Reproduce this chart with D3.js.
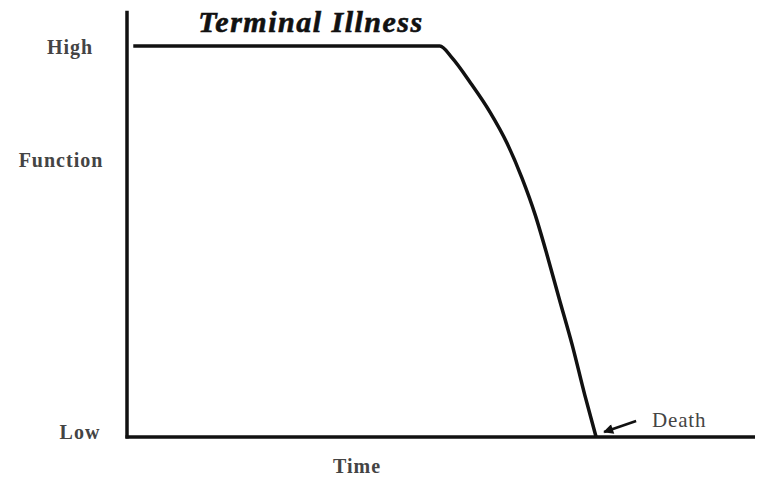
<!DOCTYPE html>
<html>
<head>
<meta charset="utf-8">
<script src="https://cdn.jsdelivr.net/npm/d3@7"></script>
<style>
  body { margin: 0; background: #fff; }
  text { font-family: "Liberation Serif", "DejaVu Serif", serif; fill: #2a2a2a; }
</style>
</head>
<body>
<script>
// Width and height
var w = 763;
var h = 479;

// Function over time (0-100 scales)
const timeValues = [1, 49.8, 51.8, 54.6, 57.8, 60.5, 62.9, 65.0, 66.9, 68.8, 70.9, 72.9, 74.7];
const functionValues = [100, 100, 96.9, 90.8, 83.1, 75.2, 66.2, 56.8, 46.5, 35.5, 23.5, 10.7, 0];
const yLabels = ["High", "Function", "Low"];
const yLabelValues = [100, 71, 1.5];
const xLabel = "Time";
const title = "Terminal Illness";
const deathLabel = "Death";

const dataset = timeValues.map((t, i) => [t, functionValues[i]]);

// create scale functions
const xScale = d3.scaleLinear()
                .domain([0, 100])
                .range([127, 755]);

const yScale = d3.scaleLinear()
                .domain([0, 100])
                .range([437, 46]);

// create SVG element
const svg = d3.select("body")
              .append("svg")
                .attr("width", w)
                .attr("height", h);

// axes as plain lines
svg.append("line")
  .attr("x1", xScale(0)).attr("x2", xScale(0))
  .attr("y1", yScale(0) + 1.5).attr("y2", yScale(109))
  .attr("stroke", "#111").attr("stroke-width", 3.5);

svg.append("line")
  .attr("x1", xScale(0) - 1.5).attr("x2", xScale(100))
  .attr("y1", yScale(0)).attr("y2", yScale(0))
  .attr("stroke", "#111").attr("stroke-width", 3.5);

// the curve
const line = d3.line()
  .x(d => xScale(d[0]))
  .y(d => yScale(d[1]))
  .curve(d3.curveMonotoneX);

svg.append("path")
  .datum(dataset)
  .attr("d", line)
  .attr("fill", "none")
  .attr("stroke", "#111")
  .attr("stroke-width", 3.5)
  .attr("stroke-linejoin", "round");

// y labels
svg.selectAll(".ylab")
  .data(yLabels)
  .enter()
  .append("text")
    .attr("class", "ylab")
    .attr("x", (d, i) => i === 1 ? 61 : (i === 0 ? 70 : 80))
    .attr("y", (d, i) => yScale(yLabelValues[i]) + 8)
    .attr("text-anchor", "middle")
    .attr("font-size", 20)
    .attr("font-weight", "bold")
    .attr("letter-spacing", 1)
    .style("fill", "#444")
    .text(d => d);

// x label
svg.append("text")
  .attr("x", 357)
  .attr("y", 473)
  .attr("text-anchor", "middle")
  .attr("font-size", 20)
  .attr("font-weight", "bold")
  .attr("letter-spacing", 1)
  .style("fill", "#444")
  .text(xLabel);

// title
svg.append("text")
  .attr("x", 311)
  .attr("y", 32)
  .attr("text-anchor", "middle")
  .attr("font-size", 30)
  .attr("font-weight", "bold")
  .attr("font-style", "italic")
  .attr("letter-spacing", 1.5)
  .style("fill", "#111")
  .style("stroke", "#111")
  .style("stroke-width", 0.6)
  .text(title);

// death annotation
const deathX = timeValues[timeValues.length - 1];
svg.append("defs").append("marker")
  .attr("id", "arrow")
  .attr("viewBox", "0 0 10 10")
  .attr("refX", 9).attr("refY", 5)
  .attr("markerWidth", 5).attr("markerHeight", 4)
  .attr("orient", "auto")
  .append("path")
    .attr("d", "M0,0L10,5L0,10Z")
    .attr("fill", "#111");

svg.append("line")
  .attr("x1", xScale(deathX) + 40).attr("y1", yScale(0) - 16)
  .attr("x2", xScale(deathX) + 8).attr("y2", yScale(0) - 5)
  .attr("stroke", "#111").attr("stroke-width", 2.5)
  .attr("marker-end", "url(#arrow)");

svg.append("text")
  .attr("x", xScale(deathX) + 56)
  .attr("y", yScale(0) - 10)
  .attr("font-size", 21)
  .attr("letter-spacing", 0.8)
  .style("fill", "#444")
  .text(deathLabel);
</script>
</body>
</html>
